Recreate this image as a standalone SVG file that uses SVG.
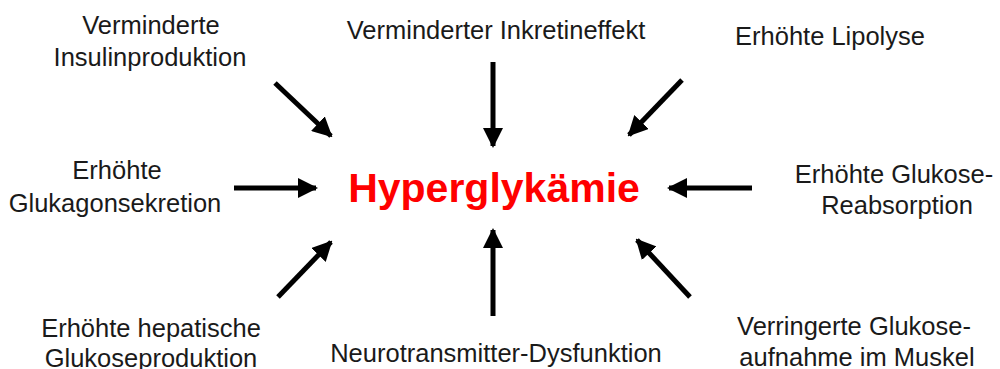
<svg xmlns="http://www.w3.org/2000/svg" width="1000" height="369" viewBox="0 0 1000 369">
<style>
.t{font-family:"Liberation Sans",Arial,sans-serif;font-size:25.5px;fill:#1a1a1a;text-anchor:middle}
.c{stroke:#000;stroke-width:5;fill:none;marker-end:url(#ah)}
.h{font-family:"Liberation Sans",Arial,sans-serif;font-size:41px;font-weight:bold;fill:#ff0000;text-anchor:middle}
</style>
<defs>
<marker id="ah" viewBox="0 0 10 10" refX="9" refY="5" markerWidth="4" markerHeight="4" orient="auto" markerUnits="strokeWidth">
<path d="M0,0 L10,5 L0,10 z" fill="#000"/>
</marker>
</defs>
<rect width="1000" height="369" fill="#fff"/>
<g id="center"><text class="h" x="494" y="202">Hyperglykämie</text></g>
<g id="n1"><text class="t" x="151" y="34">Verminderte</text><text class="t" x="150" y="66">Insulinproduktion</text></g>
<g id="n2"><text class="t" x="496" y="39">Verminderter Inkretineffekt</text></g>
<g id="n3"><text class="t" x="830" y="45">Erhöhte Lipolyse</text></g>
<g id="n4"><text class="t" x="117" y="179">Erhöhte</text><text class="t" x="115" y="212">Glukagonsekretion</text></g>
<g id="n5"><text class="t" x="894" y="183">Erhöhte Glukose-</text><text class="t" x="897" y="214">Reabsorption</text></g>
<g id="n6"><text class="t" x="151" y="337">Erhöhte hepatische</text><text class="t" x="151" y="367">Glukoseproduktion</text></g>
<g id="n7"><text class="t" x="496" y="362">Neurotransmitter-Dysfunktion</text></g>
<g id="n8"><text class="t" x="854" y="335">Verringerte Glukose-</text><text class="t" x="857" y="366">aufnahme im Muskel</text></g>
<g id="connectors">
<line class="c" x1="275" y1="83" x2="331" y2="136"/>
<line class="c" x1="493" y1="62" x2="493" y2="146"/>
<line class="c" x1="682" y1="80" x2="629" y2="135"/>
<line class="c" x1="234" y1="188" x2="316" y2="188"/>
<line class="c" x1="752" y1="188" x2="669" y2="188"/>
<line class="c" x1="278" y1="297" x2="331" y2="242"/>
<line class="c" x1="493" y1="316" x2="493" y2="230"/>
<line class="c" x1="690" y1="297" x2="637" y2="240"/>
</g>
</svg>
